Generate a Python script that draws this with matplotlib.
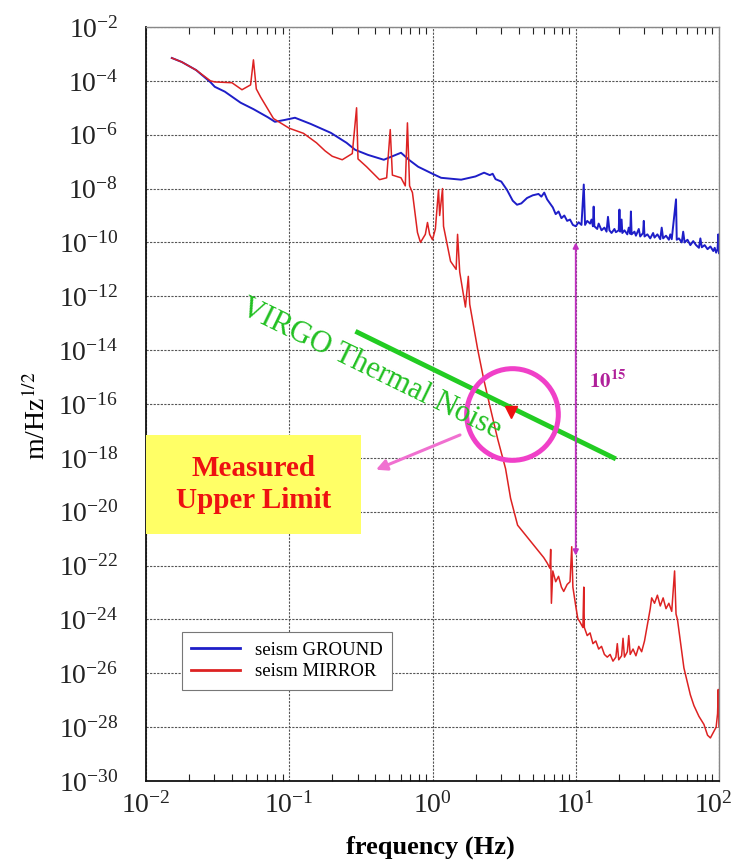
import matplotlib

matplotlib.use("Agg")
import matplotlib.pyplot as plt
import matplotlib.transforms as mtransforms
import numpy as np
from matplotlib.patches import Rectangle
from matplotlib.ticker import LogFormatterMathtext, NullLocator, LogLocator

plt.rcParams["font.family"] = ["Liberation Serif", "DejaVu Serif"]
plt.rcParams["mathtext.fontset"] = "stix"

# ── data: (log10 frequency [Hz], log10 amplitude [m/Hz^1/2]) ──
ground_points = [
    (-1.82, -3.15), (-1.75, -3.30), (-1.65, -3.60), (-1.55, -4.05), (-1.52, -4.22),
    (-1.45, -4.40), (-1.34, -4.81), (-1.25, -5.05), (-1.15, -5.35), (-1.10, -5.52),
    (-1.03, -5.45), (-0.96, -5.37), (-0.85, -5.60), (-0.71, -5.93), (-0.60, -6.30),
    (-0.54, -6.56), (-0.45, -6.75), (-0.34, -6.93), (-0.28, -6.80), (-0.22, -6.67),
    (-0.16, -6.95), (-0.10, -7.19), (0.00, -7.45), (0.06, -7.60), (0.20, -7.67),
    (0.30, -7.55), (0.36, -7.41), (0.40, -7.50), (0.42, -7.45), (0.44, -7.65),
    (0.48, -7.74), (0.52, -8.05), (0.56, -8.45), (0.59, -8.60), (0.62, -8.55),
    (0.66, -8.35), (0.70, -8.25), (0.74, -8.20), (0.76, -8.30), (0.78, -8.15),
    (0.80, -8.40), (0.82, -8.55), (0.84, -8.70), (0.86, -8.95), (0.88, -8.85),
    (0.90, -9.10), (0.92, -9.00), (0.94, -9.20), (0.96, -9.15), (0.98, -9.35),
    (1.00, -9.40), (1.02, -9.25), (1.04, -9.35), (1.056, -7.85), (1.065, -9.35),
    (1.08, -9.20), (1.10, -9.30), (1.11, -9.15), (1.12, -9.40), (1.125, -8.67),
    (1.13, -9.40), (1.15, -9.50), (1.16, -9.30), (1.18, -9.55), (1.20, -9.45),
    (1.215, -9.60), (1.225, -9.05), (1.235, -9.55), (1.25, -9.65), (1.27, -9.50),
    (1.28, -9.62), (1.30, -9.55), (1.305, -8.78), (1.31, -9.60), (1.32, -9.15),
    (1.325, -9.65), (1.34, -9.55), (1.36, -9.70), (1.37, -9.45), (1.38, -9.68),
    (1.385, -8.85), (1.39, -9.70), (1.41, -9.60), (1.42, -9.75), (1.44, -9.50),
    (1.45, -9.78), (1.47, -9.65), (1.475, -9.20), (1.48, -9.78), (1.50, -9.70),
    (1.52, -9.85), (1.54, -9.65), (1.55, -9.82), (1.57, -9.70), (1.59, -9.88),
    (1.60, -9.45), (1.61, -9.85), (1.63, -9.75), (1.65, -9.90), (1.66, -9.70),
    (1.67, -9.88), (1.70, -8.40), (1.705, -9.90), (1.72, -9.85), (1.74, -10.00),
    (1.75, -9.60), (1.76, -10.00), (1.78, -9.90), (1.80, -10.10), (1.82, -9.95),
    (1.84, -10.10), (1.86, -10.20), (1.87, -9.85), (1.88, -10.18), (1.90, -10.10),
    (1.92, -10.25), (1.94, -10.15), (1.96, -10.32), (1.97, -10.20), (1.98, -10.38),
    (1.99, -10.25), (1.995, -9.70), (2.00, -10.40),
]

mirror_points = [
    (-1.82, -3.15), (-1.75, -3.30), (-1.65, -3.60), (-1.55, -4.00), (-1.52, -4.04),
    (-1.40, -4.07), (-1.33, -4.33), (-1.27, -4.15), (-1.25, -3.22), (-1.23, -4.30),
    (-1.20, -4.60), (-1.11, -5.40), (-1.00, -5.76), (-0.90, -5.95), (-0.81, -6.30),
    (-0.75, -6.60), (-0.70, -6.80), (-0.63, -6.93), (-0.56, -6.70), (-0.53, -5.00),
    (-0.52, -6.90), (-0.46, -7.19), (-0.37, -7.67), (-0.32, -7.60), (-0.295, -5.81),
    (-0.28, -7.50), (-0.22, -7.60), (-0.19, -7.90), (-0.175, -5.56), (-0.16, -7.90),
    (-0.14, -8.15), (-0.105, -9.63), (-0.084, -10.00), (-0.05, -9.70), (-0.035, -9.26),
    (-0.02, -9.70), (0.00, -9.90), (0.02, -9.50), (0.042, -8.04), (0.05, -9.00),
    (0.07, -8.00), (0.077, -9.40), (0.126, -10.70), (0.165, -11.00), (0.175, -9.70),
    (0.19, -11.10), (0.23, -12.40), (0.25, -11.26), (0.26, -12.30), (0.315, -13.96),
    (0.357, -15.07), (0.406, -16.20), (0.455, -17.30), (0.51, -18.40), (0.545, -19.50),
    (0.594, -20.50), (0.685, -21.10), (0.776, -21.70), (0.80, -21.90), (0.82, -22.10),
    (0.825, -21.40), (0.83, -23.40), (0.84, -22.20), (0.86, -22.60), (0.88, -22.40),
    (0.90, -22.80), (0.916, -22.96), (0.94, -22.70), (0.96, -22.60), (0.972, -21.30),
    (0.98, -22.80), (1.00, -23.50), (1.014, -23.96), (1.03, -24.10), (1.05, -24.30),
    (1.056, -22.80), (1.06, -24.30), (1.08, -24.60), (1.10, -24.50), (1.12, -24.90),
    (1.14, -24.80), (1.16, -25.10), (1.18, -25.00), (1.20, -25.30), (1.22, -25.40),
    (1.24, -25.30), (1.26, -25.55), (1.28, -25.40), (1.29, -24.90), (1.30, -25.50),
    (1.32, -25.35), (1.33, -24.70), (1.34, -25.40), (1.36, -25.20), (1.37, -24.60),
    (1.38, -25.30), (1.40, -25.10), (1.42, -25.35), (1.44, -25.00), (1.46, -25.20),
    (1.48, -24.80), (1.50, -24.20), (1.52, -23.60), (1.53, -23.20), (1.55, -23.40),
    (1.57, -23.10), (1.59, -23.50), (1.61, -23.20), (1.63, -23.60), (1.65, -23.40),
    (1.67, -23.70), (1.69, -22.20), (1.70, -23.80), (1.71, -24.00), (1.755, -25.80),
    (1.80, -26.80), (1.825, -27.20), (1.86, -27.60), (1.895, -27.90), (1.92, -28.30),
    (1.94, -28.40), (1.96, -28.20), (1.98, -28.00), (1.99, -27.50), (1.995, -26.60),
    (2.00, -28.00),
]

# VIRGO thermal noise segment and annotation anchors (log10 values)
thermal_logf = [-0.538, 1.28]
thermal_logasd = [-13.3, -18.04]
limit_logf, limit_logasd = 0.545, -16.30
circle_logf, circle_logasd = 0.552, -16.37
ratio_f = 10.0
ratio_top_log, ratio_bottom_log = -10.0, -21.63

ground = 10.0 ** np.array(ground_points)
mirror = 10.0 ** np.array(mirror_points)

fig = plt.figure(figsize=(7.36, 8.63), dpi=100)
ax = fig.add_axes([146 / 736, 1 - 781 / 863, 573 / 736, 754 / 863])

ax.plot(ground[:, 0], ground[:, 1], color="#1e1ec8", linewidth=1.4, label="seism GROUND")
ax.plot(mirror[:, 0], mirror[:, 1], color="#dd2222", linewidth=1.1, label="seism MIRROR")

ax.set_xscale("log")
ax.set_yscale("log")
ax.set_xlim(1e-2, 1e2)
ax.set_ylim(1e-30, 1e-2)
ax.set_xticks([1e-2, 1e-1, 1e0, 1e1, 1e2])
ax.set_yticks(10.0 ** np.arange(-30, -1, 2))
ax.yaxis.set_major_formatter(LogFormatterMathtext())
ax.yaxis.set_minor_locator(NullLocator())
ax.xaxis.set_major_formatter(LogFormatterMathtext())
ax.xaxis.set_minor_locator(LogLocator(base=10, subs=np.arange(2, 10)))

ax.tick_params(axis="both", which="both", direction="in", top=True, right=False,
               labelsize=20, colors="#222222")
ax.tick_params(axis="y", which="major", length=0, pad=20)
ax.tick_params(axis="x", which="major", length=0, pad=8)
ax.tick_params(axis="x", which="minor", length=5, width=0.8)

# keep the right-most frequency label inside the canvas
last = ax.xaxis.get_major_ticks()[-1].label1
last.set_transform(last.get_transform() +
                   mtransforms.ScaledTranslation(-6 / 100, 0, fig.dpi_scale_trans))

ax.grid(True, which="major", color="#555555", linestyle=(0, (2, 1.2)), linewidth=0.8)
for side in ["left", "bottom"]:
    ax.spines[side].set_color("#111111")
    ax.spines[side].set_linewidth(1.3)
for side in ["top", "right"]:
    ax.spines[side].set_color("#888888")
    ax.spines[side].set_linewidth(1.0)

ax.set_xlabel("frequency (Hz)", fontsize=19, fontweight="bold")
ax.xaxis.set_label_coords(0.497, -0.072)
ax.set_ylabel(r"m/Hz$^{1/2}$", fontsize=20)
ax.yaxis.set_label_coords(-0.165, 0.485)

# VIRGO thermal noise
ax.plot(10.0 ** np.array(thermal_logf), 10.0 ** np.array(thermal_logasd),
        color="#22cc22", linewidth=3.5, solid_capstyle="butt")
ax.text(10 ** -0.43, 10 ** -14.70, "VIRGO Thermal Noise", color="#22c022", fontsize=22,
        rotation=-26, rotation_mode="anchor", ha="center", va="center")

# measured upper limit
ax.plot([10 ** circle_logf], [10 ** circle_logasd], "o", ms=66, mfc="none",
        mec="#f040c8", mew=3.6)
ax.plot([10 ** limit_logf], [10 ** limit_logasd], "v", ms=9, color="#ee1111")
ax.annotate("", xy=(10 ** -0.413, 10 ** -18.48), xytext=(10 ** 0.21, 10 ** -17.11),
            arrowprops=dict(arrowstyle="-|>", color="#f070d0", lw=2.2,
                            mutation_scale=16))
ax.add_patch(Rectangle((0, 0.3276), 0.375, 0.1315, transform=ax.transAxes,
                       facecolor="#ffff66", edgecolor="none", zorder=3))
ax.text(0.187, 0.393, "Measured\nUpper Limit", transform=ax.transAxes, color="#ee1111",
        fontsize=21, fontweight="bold", ha="center", va="center", linespacing=1.25,
        zorder=4)

# 10^15 gap between ground and mirror
ax.annotate("", xy=(ratio_f, 10 ** ratio_top_log), xytext=(ratio_f, 10 ** ratio_bottom_log),
            arrowprops=dict(arrowstyle="<|-|>", color="#c030c0", lw=1.3,
                            mutation_scale=8, shrinkA=0, shrinkB=0))
ax.text(10 ** 1.224, 10 ** -15.19, r"$\mathbf{10^{15}}$", color="#b0209a", fontsize=15,
        ha="center", va="center")

leg = ax.legend(loc="upper left", bbox_to_anchor=(0.063, 0.1976), borderaxespad=0,
                fontsize=13.5, fancybox=False, framealpha=1, edgecolor="#777777",
                handlelength=2.6, borderpad=0.5, labelspacing=0.25, handletextpad=0.8)
leg.get_frame().set_linewidth(0.8)
for line in leg.get_lines():
    line.set_linewidth(2.0)

fig.savefig("out.png", dpi=100)
